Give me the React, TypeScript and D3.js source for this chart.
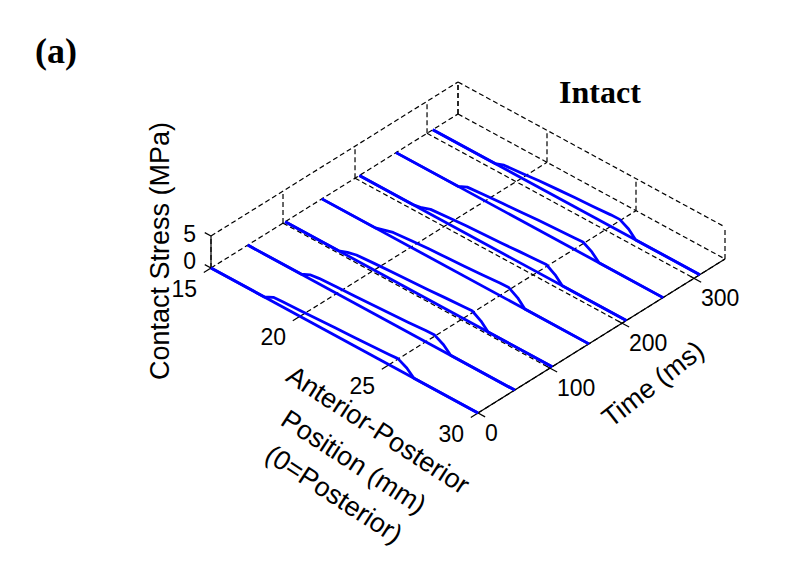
import React from "react";
import * as d3 from "d3";

// chart values
const positionTicks = [15, 20, 25, 30];
const timeTicks = [0, 100, 200, 300];
const stressTicks = [0, 5];
const timeMax = 343;

const traceTimes = [0, 51, 103, 154, 206, 257, 308];
const profilePositions = [15, 18, 18.5, 19, 20, 21, 22, 23, 24, 25, 25.5, 26, 26.4, 30];
const stressT0 = [0, 0, 0.7, 0.8, 0.9, 1.05, 1.2, 1.3, 1.45, 1.6, 1.7, 1.0, 0, 0];
const stressT51 = [0, 0, 0.65, 0.85, 1.0, 1.1, 1.25, 1.4, 1.55, 1.75, 1.8, 1.05, 0, 0];
const stressT103 = [0, 0, 0.5, 0.85, 1.05, 1.2, 1.35, 1.5, 1.7, 1.85, 1.95, 1.1, 0, 0];
const stressT154 = [0, 0, 0.4, 0.8, 1.05, 1.25, 1.4, 1.55, 1.75, 1.95, 2.0, 1.15, 0, 0];
const stressT206 = [0, 0, 0.25, 0.75, 1.0, 1.2, 1.35, 1.5, 1.7, 1.85, 1.95, 1.1, 0, 0];
const stressT257 = [0, 0, 0, 0.65, 0.9, 1.1, 1.3, 1.5, 1.65, 1.8, 1.9, 1.1, 0, 0];
const stressT308 = [0, 0, 0, 0.5, 0.75, 1.05, 1.25, 1.45, 1.6, 1.8, 1.85, 1.1, 0, 0];
const stressProfiles = [stressT0, stressT51, stressT103, stressT154, stressT206, stressT257, stressT308];

// projection of the 3d box onto the page
const origin = { x: 211, y: 268 };
const posX = d3.scaleLinear().domain([15, 30]).range([0, 267]);
const posY = d3.scaleLinear().domain([15, 30]).range([0, 145]);
const timeX = d3.scaleLinear().domain([0, timeMax]).range([0, 247]);
const timeY = d3.scaleLinear().domain([0, timeMax]).range([0, -154]);
const stressY = d3.scaleLinear().domain([0, 5]).range([0, -32]);

const project = (p: number, t: number, z: number): [number, number] => [
  origin.x + posX(p) + timeX(t),
  origin.y + posY(p) + timeY(t) + stressY(z),
];

const pMin = 15, pMax = 30, zMax = 5;
const sans = "'Liberation Sans', Arial, sans-serif";
const serif = "'Liberation Serif', 'Times New Roman', serif";

const seg = (a: [number, number], b: [number, number]) =>
  "M" + a[0] + "," + a[1] + "L" + b[0] + "," + b[1];

export default function App() {
  const line = d3.line<[number, number]>();

  // dashed grid: floor, back walls and box edges
  const grid: string[] = [];
  timeTicks.concat([timeMax]).forEach((t) => {
    grid.push(seg(project(pMin, t, 0), project(pMax, t, 0)));
    grid.push(seg(project(pMin, t, 0), project(pMin, t, zMax)));
  });
  positionTicks.forEach((p) => {
    grid.push(seg(project(p, 0, 0), project(p, timeMax, 0)));
    grid.push(seg(project(p, timeMax, 0), project(p, timeMax, zMax)));
  });
  grid.push(seg(project(pMin, 0, zMax), project(pMin, timeMax, zMax)));
  grid.push(seg(project(pMin, timeMax, zMax), project(pMax, timeMax, zMax)));

  return (
    <svg width={800} height={568} style={{ position: "absolute", left: 0, top: 0, background: "#fff" }}>
      <g stroke="#000" strokeWidth={1.2} strokeDasharray="5,3" fill="none">
        {grid.map((d, i) => <path key={i} d={d} />)}
      </g>

      {/* solid axes */}
      <g stroke="#000" strokeWidth={1.2} fill="none">
        <path d={seg(project(pMax, 0, 0), project(pMax, timeMax, 0))} />
        <path d={seg(project(pMin, 0, 0), project(pMax, 0, 0))} />
        <path d={seg(project(pMin, 0, 0), project(pMin, 0, zMax))} />
        {positionTicks.map((p) => <path key={"pt" + p} d={seg(project(p, 0, 0), project(p, -10, 0))} />)}
        {timeTicks.map((t) => <path key={"tt" + t} d={seg(project(pMax - 0.2, t, 0), project(pMax + 0.4, t, 0))} />)}
        {stressTicks.map((z) => <path key={"zt" + z} d={seg(project(pMin, 0, z), project(pMin - 0.35, 0, z))} />)}
      </g>

      {/* stress traces */}
      <g stroke="#0000ff" strokeWidth={2.8} fill="none" strokeLinejoin="round">
        {traceTimes.map((t, i) => (
          <g key={"tr" + t}>
            <path d={line([project(pMin, t, 0), project(pMax, t, 0)]) || ""} />
            <path d={line(profilePositions.map((p, j) => project(p, t, stressProfiles[i][j]))) || ""} />
          </g>
        ))}
      </g>

      {/* tick labels */}
      <g fontFamily={sans} fontSize={23} fill="#000">
        {positionTicks.map((p) => {
          const [x, y] = project(p, 0, 0);
          return <text key={"pl" + p} x={x - 14} y={y + 21} textAnchor="end" dominantBaseline="central">{p}</text>;
        })}
        {timeTicks.map((t) => {
          const [x, y] = project(pMax, t, 0);
          return <text key={"tl" + t} x={x + 7} y={y + 20} dominantBaseline="central">{t}</text>;
        })}
        {stressTicks.map((z) => {
          const [x, y] = project(pMin, 0, z);
          return <text key={"zl" + z} x={x - 15} y={y - (z === 0 ? 7 : 2)} textAnchor="end" dominantBaseline="central">{z}</text>;
        })}
      </g>

      {/* axis labels */}
      <g fontFamily={sans} fontSize={27} fill="#000" textAnchor="middle" dominantBaseline="central">
        <text transform="translate(160,251) rotate(-90)">Contact Stress (MPa)</text>
        <g transform="translate(378,430) rotate(33)">
          <text x={0} y={0}>Anterior-Posterior</text>
          <text x={-3} y={40}>Position (mm)</text>
          <text x={-2} y={78}>(0=Posterior)</text>
        </g>
        <text transform="translate(653,384) rotate(-38)">Time (ms)</text>
      </g>

      <text x={600} y={103} textAnchor="middle" fontFamily={serif} fontWeight="bold" fontSize={32}>Intact</text>
      <text x={35} y={63} fontFamily={serif} fontWeight="bold" fontSize={36}>(a)</text>
    </svg>
  );
}
